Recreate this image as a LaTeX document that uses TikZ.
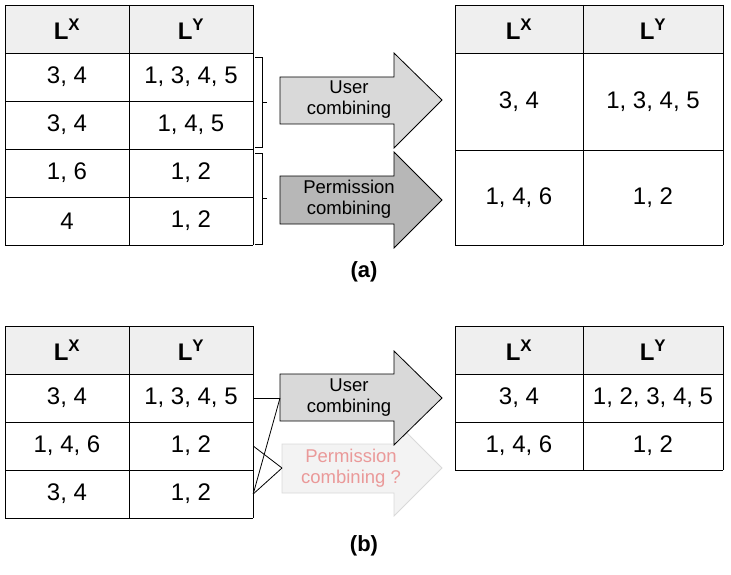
\documentclass[tikz,border=0pt]{standalone}
\usepackage{fontspec}
\setmainfont{Liberation Sans}
\definecolor{headgray}{HTML}{EFEFEF}
\definecolor{usergray}{HTML}{D9D9D9}
\definecolor{permgray}{HTML}{B7B7B7}
\definecolor{ghostgray}{HTML}{F3F3F3}
\definecolor{ghostpink}{HTML}{EA9999}
\begin{document}
\begin{tikzpicture}[x=1pt, y=-1pt,
  grid/.style={line width=0.8pt},
  cell/.style={minimum width=124pt, minimum height=48pt, inner sep=0pt,
    font=\fontsize{24}{27}\selectfont},
  wide/.style={minimum width=128pt},
  arrowtext/.style={align=center, font=\fontsize{18.5}{21}\selectfont},
  bracket/.style={line width=0.6pt},
  link/.style={line width=0.8pt},
  caption/.style={font=\bfseries\fontsize{22}{26}\selectfont}]
\useasboundingbox (0,0) rectangle (731,575);

% ---------- (a) input table
\fill[headgray] (5,5) rectangle (253,53);
\foreach \y in {5, 53, ..., 245}
{
	\draw[grid] (5, \y) -- (253, \y);
}
\foreach \x in {5, 129, 253}
{
	\draw[grid] (\x, 5) -- (\x, 245);
}
\node[cell] (al-0-x) at (67, 29) {\textbf{L\textsuperscript{X}}};
\node[cell] (al-0-y) at (191, 29) {\textbf{L\textsuperscript{Y}}};
\foreach \lx/\ly [count=\i] in {{3, 4}/{1, 3, 4, 5}, {3, 4}/{1, 4, 5}, {1, 6}/{1, 2}, {4}/{1, 2}}
{
	\node[cell] (al-\i-x) at (67, 29+48*\i) {\lx};
	\node[cell] (al-\i-y) at (191, 29+48*\i) {\ly};
}

% brackets
\draw[bracket] (255, 57) -- (262, 57) -- (262, 147) -- (255, 147);
\draw[bracket] (262, 102) -- (267, 102);
\draw[bracket] (255, 153) -- (262, 153) -- (262, 244) -- (255, 244);
\draw[bracket] (262, 198) -- (267, 198);

% ---------- (a) arrows
\draw[grid, fill=usergray] (280, 77) -- (394, 77) -- (394, 53) -- (442, 100)
  -- (394, 148) -- (394, 124) -- (280, 124) -- cycle;
\node[arrowtext] (auser) at (349, 100) {User\\combining};
\draw[grid, fill=permgray] (280, 176) -- (394, 176) -- (394, 152) -- (442, 200)
  -- (394, 248) -- (394, 224) -- (280, 224) -- cycle;
\node[arrowtext] (aperm) at (349, 199) {Permission\\combining};

% ---------- (a) result table
\fill[headgray] (455, 5) rectangle (723, 53);
\foreach \y in {5, 53, 150, 245}
{
	\draw[grid] (455, \y) -- (723, \y);
}
\foreach \x in {455, 583, 723}
{
	\draw[grid] (\x, 5) -- (\x, 245);
}
\node[cell, wide] (ar-0-x) at (519, 29) {\textbf{L\textsuperscript{X}}};
\node[cell, wide] (ar-0-y) at (653, 29) {\textbf{L\textsuperscript{Y}}};
\node[cell, wide] (ar-1-x) at (519, 101.5) {3, 4};
\node[cell, wide] (ar-1-y) at (653, 101.5) {1, 3, 4, 5};
\node[cell, wide] (ar-2-x) at (519, 197.5) {1, 4, 6};
\node[cell, wide] (ar-2-y) at (653, 197.5) {1, 2};

\node[caption] (capa) at (364, 272) {(a)};

% ---------- (b) input table
\fill[headgray] (5, 326) rectangle (253, 374);
\foreach \y in {326, 374, ..., 518}
{
	\draw[grid] (5, \y) -- (253, \y);
}
\foreach \x in {5, 129, 253}
{
	\draw[grid] (\x, 326) -- (\x, 518);
}
\node[cell] (bl-0-x) at (67, 350) {\textbf{L\textsuperscript{X}}};
\node[cell] (bl-0-y) at (191, 350) {\textbf{L\textsuperscript{Y}}};
\foreach \lx/\ly [count=\i] in {{3, 4}/{1, 3, 4, 5}, {1, 4, 6}/{1, 2}, {3, 4}/{1, 2}}
{
	\node[cell] (bl-\i-x) at (67, 350+48*\i) {\lx};
	\node[cell] (bl-\i-y) at (191, 350+48*\i) {\ly};
}

% ---------- (b) arrows
\draw[line width=0.8pt, draw=usergray, fill=ghostgray] (282, 444) -- (394, 444) -- (394, 420)
  -- (442, 468) -- (394, 516) -- (394, 493) -- (282, 493) -- cycle;
\node[arrowtext, text=ghostpink] (bperm) at (351, 468) {Permission\\combining ?};
\coordinate (bperm-in) at (282, 468);
\draw[grid, fill=usergray] (280, 374) -- (394, 374) -- (394, 351) -- (442, 398)
  -- (394, 445) -- (394, 421) -- (280, 421) -- cycle;
\node[arrowtext] (buser) at (349, 398) {User\\combining};
\coordinate (buser-in) at (280, 398);

\draw[link] (bl-1-y.east) -- (buser-in);
\draw[link] (bl-3-y.east) -- (buser-in);
\draw[link] (bl-2-y.east) -- (bperm-in);
\draw[link] (bl-3-y.east) -- (bperm-in);

% ---------- (b) result table
\fill[headgray] (455, 326) rectangle (723, 374);
\foreach \y in {326, 374, 422, 470}
{
	\draw[grid] (455, \y) -- (723, \y);
}
\foreach \x in {455, 583, 723}
{
	\draw[grid] (\x, 326) -- (\x, 470);
}
\node[cell, wide] (br-0-x) at (519, 350) {\textbf{L\textsuperscript{X}}};
\node[cell, wide] (br-0-y) at (653, 350) {\textbf{L\textsuperscript{Y}}};
\node[cell, wide] (br-1-x) at (519, 398) {3, 4};
\node[cell, wide] (br-1-y) at (653, 398) {1, 2, 3, 4, 5};
\node[cell, wide] (br-2-x) at (519, 446) {1, 4, 6};
\node[cell, wide] (br-2-y) at (653, 446) {1, 2};

\node[caption] (capb) at (364, 546) {(b)};
\end{tikzpicture}
\end{document}
